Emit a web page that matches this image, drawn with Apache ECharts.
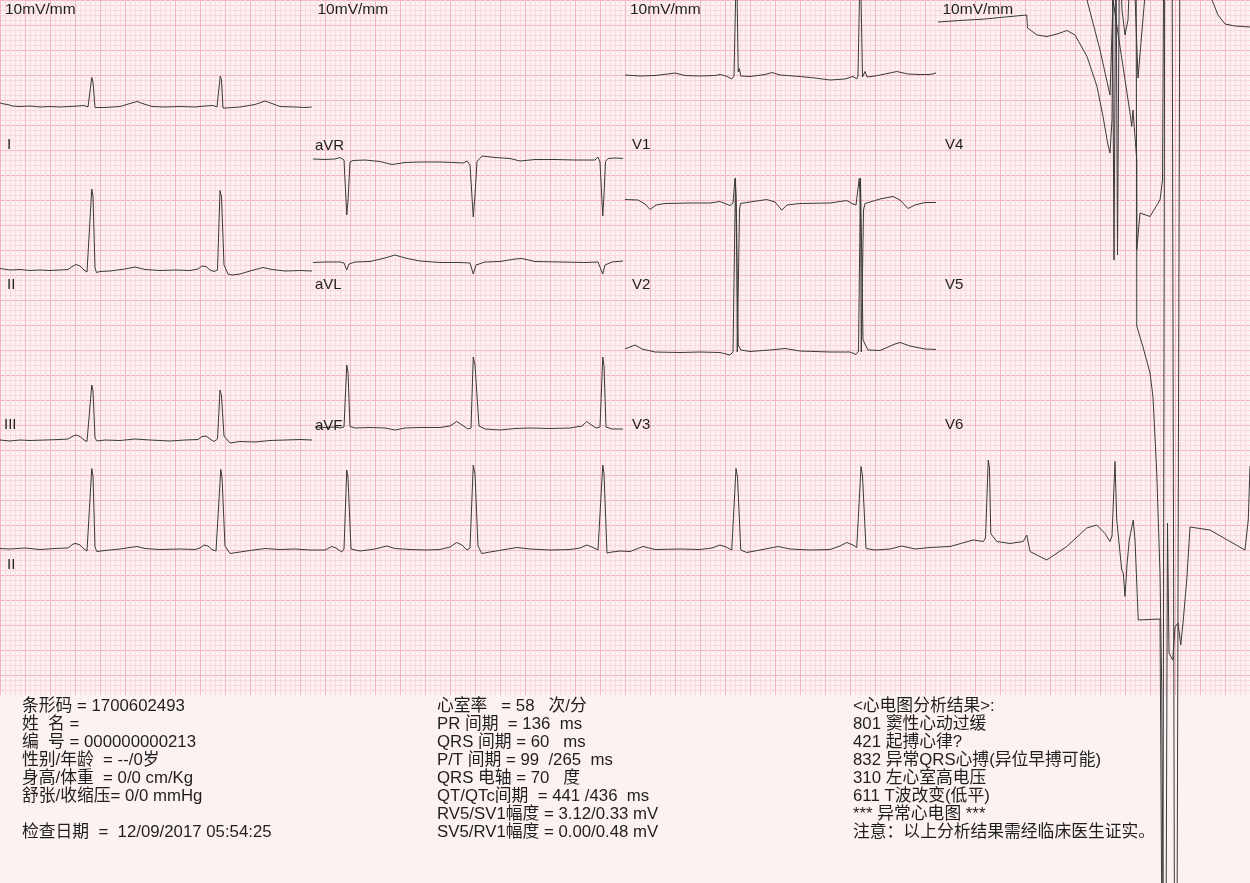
<!DOCTYPE html>
<html><head><meta charset="utf-8">
<script src="https://cdn.jsdelivr.net/npm/echarts@6/dist/echarts.min.js"></script>
<style>html,body{margin:0;padding:0;background:#fdf2f2}#c{width:1250px;height:883px}</style>
</head><body><div id="c"></div>
<script>
// ---- DATA: each lead = list of [time (s), amplitude (mV) relative to its baseline] ----
const leadI = [[0,0.06],[0.032,0.04],[0.064,0.03],[0.096,0],[0.16,-0.01],[0.24,0],[0.32,-0.02],[0.40,-0.01],[0.48,-0.02],[0.56,-0.01],[0.624,0],[0.672,0.01],[0.704,-0.02],[0.716,-0.04],[0.734,0.57],[0.744,0.48],[0.76,-0.03],[0.776,-0.04],[0.84,-0.03],[0.96,-0.01],[1.04,0.05],[1.096,0.09],[1.152,0.04],[1.216,-0.01],[1.32,-0.02],[1.44,-0.01],[1.56,-0.02],[1.64,0],[1.704,0.01],[1.736,-0.02],[1.748,-0.04],[1.762,0.60],[1.772,0.52],[1.784,-0.04],[1.808,-0.04],[1.92,-0.02],[2.04,0.03],[2.12,0.10],[2.176,0.05],[2.24,-0.01],[2.36,-0.02],[2.44,-0.03],[2.494,-0.02]];
const leadII = [[0,0.03],[0.08,0],[0.16,0.01],[0.24,-0.01],[0.32,0],[0.40,-0.01],[0.48,0],[0.544,0.01],[0.584,0.08],[0.608,0.11],[0.64,0.08],[0.672,0],[0.696,-0.04],[0.712,-0.02],[0.734,1.62],[0.744,1.48],[0.76,0.04],[0.772,-0.05],[0.80,-0.03],[0.88,-0.02],[1.00,0.02],[1.08,0.06],[1.16,0.01],[1.28,-0.01],[1.40,0],[1.52,-0.01],[1.584,0.02],[1.616,0.08],[1.648,0.07],[1.68,0],[1.712,-0.03],[1.74,0],[1.76,1.59],[1.772,1.46],[1.792,0.10],[1.824,-0.08],[1.856,-0.10],[1.92,-0.08],[2.00,-0.02],[2.104,0.05],[2.176,0.01],[2.28,-0.02],[2.40,-0.01],[2.496,-0.02]];
const leadIII = [[0,0],[0.08,-0.02],[0.16,0],[0.24,-0.01],[0.36,0],[0.48,0.01],[0.544,0.02],[0.584,0.08],[0.608,0.10],[0.64,0.07],[0.672,0],[0.696,-0.03],[0.712,0],[0.734,1.10],[0.744,0.98],[0.76,0.04],[0.776,-0.02],[0.84,0],[0.96,-0.01],[1.08,0.02],[1.20,0],[1.36,-0.02],[1.48,0],[1.584,0.01],[1.616,0.07],[1.648,0.08],[1.68,0.02],[1.712,-0.03],[1.74,0.02],[1.76,1.00],[1.772,0.88],[1.792,0.08],[1.84,-0.06],[1.92,-0.03],[2.04,-0.04],[2.16,-0.01],[2.28,0],[2.40,0.01],[2.496,0]];
const leadAVR = [[2.504,0],[2.60,-0.01],[2.68,0],[2.72,0.03],[2.736,0.05],[2.752,-0.02],[2.774,-1.12],[2.784,-0.82],[2.80,-0.06],[2.824,-0.03],[2.92,-0.02],[3.04,-0.05],[3.136,-0.11],[3.24,-0.07],[3.36,-0.06],[3.52,-0.06],[3.64,-0.07],[3.704,-0.08],[3.736,-0.04],[3.76,-0.12],[3.786,-1.16],[3.80,-0.72],[3.816,-0.05],[3.856,0.06],[3.96,0.03],[4.08,0.01],[4.16,-0.04],[4.28,-0.01],[4.44,-0.01],[4.60,-0.02],[4.72,-0.02],[4.76,-0.02],[4.784,0.04],[4.80,-0.06],[4.822,-1.14],[4.832,-0.72],[4.844,-0.05],[4.864,0.01],[4.92,0.02],[4.984,0.01]];
const leadAVL = [[2.504,-0.01],[2.60,0],[2.72,0],[2.752,-0.02],[2.774,-0.16],[2.792,-0.04],[2.84,0],[2.96,0.01],[3.08,0.08],[3.16,0.14],[3.24,0.08],[3.36,0.02],[3.52,-0.01],[3.68,-0.01],[3.76,-0.02],[3.786,-0.24],[3.808,-0.06],[3.88,0],[4.00,0.01],[4.12,0.06],[4.176,0.07],[4.28,0.01],[4.48,0],[4.68,-0.01],[4.784,0],[4.822,-0.24],[4.84,-0.06],[4.896,0],[4.984,0.02]];
const leadAVF = [[2.52,0.02],[2.60,0.01],[2.68,0.02],[2.72,0],[2.752,0.02],[2.774,1.26],[2.784,1.12],[2.80,0.03],[2.84,0],[2.96,0.01],[3.08,0],[3.16,-0.04],[3.24,0],[3.36,0.01],[3.52,0.01],[3.60,0.04],[3.654,0.13],[3.696,0.06],[3.744,-0.02],[3.768,0],[3.786,1.42],[3.80,1.26],[3.832,0.04],[3.88,-0.02],[4.00,-0.04],[4.12,-0.01],[4.24,0],[4.40,-0.01],[4.56,0],[4.656,0.04],[4.694,0.13],[4.72,0.08],[4.768,0],[4.80,0.02],[4.822,1.42],[4.832,1.24],[4.848,0.02],[4.896,-0.02],[4.984,-0.02]];
const leadV1 = [[5.00,0.02],[5.12,0],[5.24,0.01],[5.344,0.04],[5.40,0.06],[5.48,0.01],[5.60,0],[5.72,0.01],[5.76,0.03],[5.808,0],[5.854,-0.06],[5.872,0],[5.892,2.4],[5.906,0.08],[5.914,0.15],[5.926,0],[6.00,-0.01],[6.12,0.03],[6.176,0.07],[6.24,0.02],[6.40,-0.01],[6.52,-0.04],[6.64,-0.08],[6.76,-0.06],[6.824,-0.01],[6.854,-0.06],[6.864,0],[6.882,2.4],[6.90,-0.02],[6.92,0.09],[6.936,-0.02],[7.00,0],[7.08,0.04],[7.174,0.09],[7.264,0.04],[7.36,0.03],[7.44,0.03],[7.488,0.06]];
const leadV2 = [[5.00,0.07],[5.104,0.06],[5.16,-0.02],[5.20,-0.13],[5.248,-0.04],[5.32,-0.01],[5.52,0],[5.68,0],[5.76,0.03],[5.80,-0.01],[5.84,-0.05],[5.864,0],[5.88,0.49],[5.888,0.16],[5.894,-0.57],[5.898,-2.98],[5.916,-0.14],[5.924,-0.01],[6.00,0.02],[6.134,0.07],[6.20,0.02],[6.254,-0.14],[6.296,-0.04],[6.40,-0.01],[6.64,0],[6.774,0.05],[6.816,-0.01],[6.848,-0.04],[6.874,0.49],[6.88,0.16],[6.886,-0.54],[6.89,-2.98],[6.908,-0.14],[6.92,-0.01],[7.04,0.08],[7.144,0.13],[7.20,0.06],[7.264,-0.11],[7.32,-0.04],[7.40,0.01],[7.488,0.01]];
const leadV3 = [[5.00,0.04],[5.08,0.12],[5.136,0.04],[5.24,-0.02],[5.44,-0.03],[5.60,-0.02],[5.76,-0.03],[5.84,-0.08],[5.864,-0.02],[5.884,3.46],[5.906,0.12],[5.926,0.02],[6.00,-0.01],[6.16,0.02],[6.28,0.05],[6.40,0],[6.64,-0.02],[6.80,-0.02],[6.848,-0.07],[6.868,0],[6.884,3.46],[6.904,0.22],[6.92,0.18],[6.944,0.02],[7.04,0.01],[7.16,0.14],[7.20,0.17],[7.28,0.10],[7.40,0.04],[7.488,0.03]];
const leadV4 = [[7.504,-0.04],[7.68,-0.01],[7.88,0.02],[8.04,0.06],[8.214,0.10],[8.22,-0.16],[8.296,-0.30],[8.376,-0.33],[8.456,-0.28],[8.536,-0.21],[8.60,-0.30],[8.696,-0.73],[8.776,-1.33],[8.824,-1.93],[8.864,-2.50],[8.88,-2.66],[8.896,-2.00],[8.908,1.60],[8.928,1.60],[8.94,-4.70],[8.956,1.60],[8.976,0.20],[9.00,-0.30],[9.024,0],[9.048,1.6],[9.08,0.50],[9.104,-1.16],[9.16,0.50],[9.20,1.60],[9.64,1.60],[9.696,0.40],[9.744,0.10],[9.80,-0.08],[9.88,-0.12],[10.0,-0.14]];
const leadV5 = [[7.50,0],[8.64,0],[8.696,-2.0],[8.80,-3.0],[8.88,-3.9],[8.904,-2.0],[9.04,-4.26],[9.054,-4.53],[9.064,-4.2],[9.08,-4.74],[9.094,-5.2],[9.094,-8.52],[9.144,-8.94],[9.20,-9.46],[9.224,-9.94],[9.254,-11.46],[9.28,-13.46],[9.294,-15.8],[9.304,-20.0],[9.32,2.0],[9.36,0],[10.0,0]];
const leadV6 = [[7.50,0],[8.896,0],[8.912,-7.2],[8.928,0],[9.088,0],[9.094,-7.0],[9.12,-6.26],[9.20,-6.33],[9.28,-6.0],[9.30,-5.6],[9.312,0],[9.376,0],[9.396,-21.0],[9.416,-21.0],[9.44,0],[10.0,0]];
const leadIIrhythm = [[0,0.01],[0.08,0],[0.20,0.02],[0.32,-0.01],[0.44,0.01],[0.544,0.02],[0.584,0.10],[0.608,0.11],[0.64,0.08],[0.672,0],[0.696,-0.04],[0.712,-0.02],[0.734,1.61],[0.744,1.46],[0.76,0.04],[0.774,-0.05],[0.84,-0.03],[0.96,0],[1.04,0.03],[1.096,0.05],[1.16,0.01],[1.28,-0.01],[1.44,0],[1.56,-0.01],[1.60,0.02],[1.632,0.08],[1.664,0.06],[1.696,-0.01],[1.728,-0.04],[1.744,0],[1.766,1.59],[1.776,1.44],[1.80,0.06],[1.84,-0.09],[1.92,-0.06],[2.00,-0.03],[2.12,0.01],[2.24,-0.01],[2.36,0],[2.48,-0.02],[2.60,-0.02],[2.654,0.05],[2.688,0.02],[2.734,-0.06],[2.752,0],[2.774,1.58],[2.784,1.42],[2.808,0],[2.88,-0.04],[3.00,0],[3.094,0.06],[3.16,0.01],[3.28,-0.01],[3.40,-0.02],[3.52,-0.01],[3.60,0.04],[3.654,0.13],[3.696,0.08],[3.736,-0.02],[3.76,0.02],[3.786,1.68],[3.80,1.50],[3.824,0.06],[3.854,-0.09],[3.92,-0.06],[4.04,-0.01],[4.134,0.03],[4.24,0],[4.40,-0.02],[4.56,-0.01],[4.64,0.02],[4.694,0.08],[4.736,0.04],[4.784,-0.02],[4.80,0.02],[4.822,1.68],[4.832,1.50],[4.856,-0.08],[4.896,-0.06],[4.96,-0.04],[5.04,-0.05],[5.144,0.05],[5.24,-0.01],[5.44,0],[5.60,-0.01],[5.696,0.02],[5.76,0.08],[5.808,0.04],[5.854,-0.02],[5.868,0.02],[5.888,1.61],[5.90,1.44],[5.926,-0.02],[5.974,-0.07],[6.08,-0.02],[6.226,0.05],[6.32,0],[6.48,-0.02],[6.64,-0.01],[6.72,0.06],[6.774,0.13],[6.824,0.08],[6.854,0.03],[6.868,0.06],[6.888,1.65],[6.90,1.46],[6.928,0.01],[7.00,-0.02],[7.12,0],[7.214,0.06],[7.32,0],[7.44,0.03],[7.60,0.05],[7.786,0.18],[7.866,0.15],[7.884,0.22],[7.906,1.78],[7.916,1.62],[7.926,0.31],[7.974,0.15],[8.08,0.11],[8.186,0.15],[8.214,0.28],[8.24,-0.05],[8.374,-0.22],[8.534,0.05],[8.694,0.42],[8.774,0.48],[8.84,0.31],[8.88,0.15],[8.896,0.26],[8.92,1.75],[8.934,0.58],[8.974,-0.42],[8.986,-0.48],[9.00,-0.95],[9.016,-0.32],[9.034,0.18],[9.066,0.58],[9.08,0.18],[9.106,-1.42],[9.28,-1.40],[9.296,-8.02],[9.328,-8.02],[9.34,0.52],[9.352,-2.08],[9.382,-2.22],[9.40,-1.56],[9.424,-1.48],[9.446,-1.92],[9.464,-1.48],[9.494,-0.62],[9.52,0.44],[9.68,0.38],[9.84,0.15],[9.96,-0.02],[9.986,0.58],[10.0,1.66]];

const leadNames = ['I','II','III','aVR','aVL','aVF','V1','V2','V3','V4','V5','V6','II'];
const scaleLabel = '10mV/mm';
const infoCol1 = ['条形码 = 1700602493','姓  名 =','编  号 = 000000000213','性别/年龄  = --/0岁','身高/体重  = 0/0 cm/Kg','舒张/收缩压= 0/0 mmHg','','检查日期  =  12/09/2017 05:54:25'];
const infoCol2 = ['心室率   = 58   次/分','PR 间期  = 136  ms','QRS 间期 = 60   ms','P/T 间期 = 99  /265  ms','QRS 电轴 = 70   度','QT/QTc间期  = 441 /436  ms','RV5/SV1幅度 = 3.12/0.33 mV','SV5/RV1幅度 = 0.00/0.48 mV'];
const infoCol3 = ['<心电图分析结果>:','801 窦性心动过缓','421 起搏心律?','832 异常QRS心搏(异位早搏可能)','310 左心室高电压','611 T波改变(低平)','*** 异常心电图 ***','注意：以上分析结果需经临床医生证实。'];

// ---- LAYOUT (baseline of each lead on the page, in mV units of the trace axis; label spots) ----
const layout = [
  {d: leadI, off: 11.78, lx: 7, ly: 145},
  {d: leadII, off: 8.50, lx: 7, ly: 285},
  {d: leadIII, off: 5.10, lx: 4, ly: 425},
  {d: leadAVR, off: 10.72, lx: 315, ly: 146},
  {d: leadAVL, off: 8.66, lx: 315, ly: 285},
  {d: leadAVF, off: 5.34, lx: 315, ly: 426},
  {d: leadV1, off: 12.38, lx: 632, ly: 145},
  {d: leadV2, off: 9.84, lx: 632, ly: 285},
  {d: leadV3, off: 6.88, lx: 632, ly: 425},
  {d: leadV4, off: 13.50, lx: 945, ly: 145},
  {d: leadV5, off: 15.90, lx: 945, ly: 285},
  {d: leadV6, off: 15.90, lx: 945, ly: 425},
  {d: leadIIrhythm, off: 2.92, lx: 7, ly: 565}
];

const FONT = "'Liberation Sans', Arial, 'Noto Sans CJK SC', sans-serif";
const TXT = '#1e1e1e';
const chart = echarts.init(document.getElementById('c'), null, {renderer: 'canvas'});

const graphic = [];
graphic.push({type: 'rect', z: 1, silent: true, shape: {x: 0, y: 695, width: 1250, height: 188}, style: {fill: '#fdf2f2'}});
[0, 1, 2, 3].forEach(i => graphic.push({type: 'text', z: 10, silent: true, style: {text: scaleLabel, x: 5 + i * 312.5, y: 10, font: '15.5px ' + FONT, fill: TXT, verticalAlign: 'middle', textVerticalAlign: 'middle'}}));
layout.forEach((l, i) => graphic.push({type: 'text', z: 10, silent: true, style: {text: leadNames[i], x: l.lx, y: l.ly, font: '15px ' + FONT, fill: TXT, verticalAlign: 'middle', textVerticalAlign: 'middle'}}));
[[infoCol1, 22], [infoCol2, 437], [infoCol3, 853]].forEach(([col, x]) => col.forEach((t, j) => graphic.push({type: 'text', z: 10, silent: true, style: {text: t, x: x, y: 706 + j * 18, font: '16.8px ' + FONT, fill: TXT, verticalAlign: 'middle', textVerticalAlign: 'middle'}})));

const paperAxis = (extra) => Object.assign({
  type: 'value', gridIndex: 0, interval: 0.5,
  axisLine: {show: false}, axisTick: {show: false}, axisLabel: {show: false},
  splitLine: {show: true, lineStyle: {color: '#f1b8c1', width: 1}},
  minorTick: {show: false, splitNumber: 5},
  minorSplitLine: {show: true, lineStyle: {color: '#f9d9de', width: 1}}
}, extra);

chart.setOption({
  animation: false,
  backgroundColor: '#fdf2f2',
  grid: [
    {left: 0, top: 0, width: 1250, height: 700, show: true, backgroundColor: '#fdf0f1', borderWidth: 0},
    {left: 0, top: 0, width: 1250, height: 883, show: false}
  ],
  xAxis: [
    paperAxis({min: 0, max: 10, interval: 0.2}),
    {type: 'value', gridIndex: 1, min: 0, max: 10, show: false}
  ],
  yAxis: [
    paperAxis({min: 0, max: 14, inverse: true}),
    {type: 'value', gridIndex: 1, min: -3.76, max: 13.9, show: false}
  ],
  graphic: graphic,
  series: layout.map((l, i) => ({
    type: 'line', name: leadNames[i], xAxisIndex: 1, yAxisIndex: 1,
    data: l.d.map(p => [p[0], +(p[1] + l.off).toFixed(3)]),
    showSymbol: false, symbol: 'none', silent: true, clip: true, z: 3,
    lineStyle: {color: '#3a3a3a', width: 1}
  }))
});
</script></body></html>
